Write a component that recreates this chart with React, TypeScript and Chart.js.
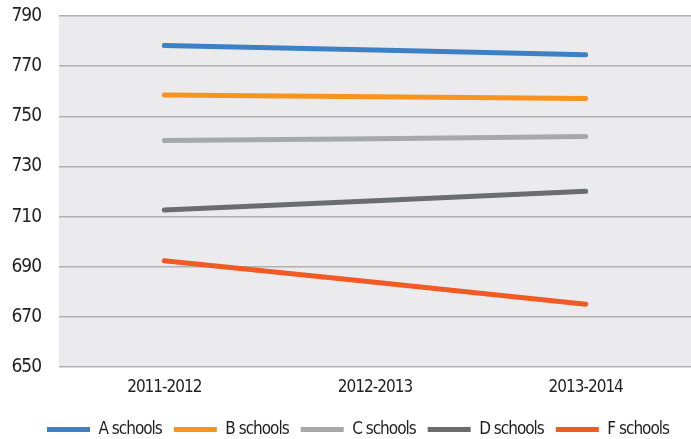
import React, { useEffect, useRef } from "react";
import { Chart, registerables } from "chart.js";

Chart.register(...registerables);

const categories = ["2011-2012", "2012-2013", "2013-2014"];
const seriesNames = ["A schools", "B schools", "C schools", "D schools", "F schools"];
const aSchools = [778.2, 776.4, 774.5];
const bSchools = [758.5, 757.8, 757.1];
const cSchools = [740.3, 741.0, 741.9];
const dSchools = [712.6, 716.3, 720.1];
const fSchools = [692.4, 683.8, 675.0];
const seriesColors = ["#3e80c6", "#f7941e", "#a6a8ab", "#6b6c6f", "#f15a25"];
const yMin = 650;
const yMax = 790;
const yStep = 20;

const FONT = "'DejaVu Sans Condensed', 'DejaVu Sans', sans-serif";
const STRETCH = "condensed";
const LETTER_SPACING = "-1px";
const LEGEND_SHIFT = 12.5;

const bgPlugin = {
  id: "plotBg",
  beforeLayout(chart: any) {
    chart.ctx.letterSpacing = LETTER_SPACING;
  },
  afterLayout(chart: any) {
    if (chart.legend) {
      chart.legend.left += LEGEND_SHIFT;
      chart.legend.right += LEGEND_SHIFT;
    }
  },
  beforeDraw(chart: any) {
    const { ctx, chartArea } = chart;
    ctx.letterSpacing = LETTER_SPACING;
    if (!chartArea) return;
    ctx.save();
    ctx.fillStyle = "#ebebed";
    ctx.fillRect(chartArea.left, chartArea.top, chartArea.right - chartArea.left, chartArea.bottom - chartArea.top);
    ctx.restore();
  },
};

export default function App() {
  const ref = useRef<HTMLCanvasElement | null>(null);
  useEffect(() => {
    if (!ref.current) return;
    const values = [aSchools, bSchools, cSchools, dSchools, fSchools];
    const chart = new Chart(ref.current, {
      type: "line",
      data: {
        labels: categories,
        datasets: seriesNames.map((name, i) => ({
          label: name,
          data: values[i],
          borderColor: seriesColors[i],
          backgroundColor: seriesColors[i],
          borderWidth: 5,
          borderCapStyle: "round",
          pointRadius: 0,
          pointHoverRadius: 0,
          tension: 0,
          fill: false,
        })),
      },
      options: {
        animation: false,
        responsive: false,
        maintainAspectRatio: false,
        layout: { padding: { top: 16, right: 0, left: 0, bottom: -9 } },
        plugins: {
          tooltip: { enabled: false },
          legend: {
            position: "bottom",
            labels: {
              usePointStyle: true,
              pointStyle: "line",
              pointStyleWidth: 43,
              boxHeight: 17,
              padding: 12,
              color: "#231f20",
              font: { family: FONT, size: 17, weight: STRETCH as any },
            },
          },
        },
        scales: {
          x: {
            offset: true,
            grid: { display: false, drawTicks: false },
            border: { display: false },
            ticks: { color: "#231f20", font: { family: FONT, size: 17, weight: STRETCH as any }, padding: 10 },
            afterFit(scale: any) {
              scale.height = 42;
              scale.paddingLeft = 0;
              scale.paddingRight = 0;
            },
          },
          y: {
            min: yMin,
            max: yMax,
            grid: { color: "#b0b0b0", lineWidth: 1.5, drawTicks: false },
            border: { display: false },
            ticks: {
              stepSize: yStep,
              color: "#231f20",
              font: { family: FONT, size: 19, weight: STRETCH as any },
              padding: 18,
            },
            afterFit(scale: any) {
              scale.width = 59;
              scale.paddingTop = 0;
              scale.paddingBottom = 0;
            },
          },
        },
      },
      plugins: [bgPlugin],
    });
    return () => chart.destroy();
  }, []);
  return (
    <div style={{ position: "fixed", left: 0, top: 0, width: 691, height: 439, background: "#fff" }}>
      <canvas ref={ref} width={691} height={439} style={{ width: 691, height: 439, display: "block" }} />
    </div>
  );
}
